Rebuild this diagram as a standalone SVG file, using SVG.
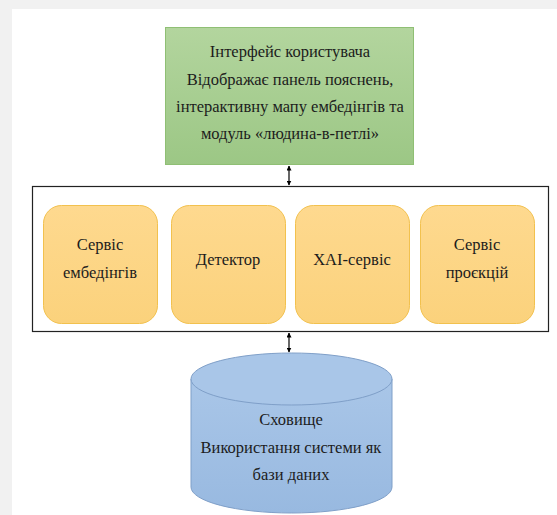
<svg xmlns="http://www.w3.org/2000/svg" width="557" height="515" viewBox="0 0 557 515">
<defs>
<style>
text{font-family:'Liberation Serif','Times New Roman',serif;font-size:16.5px;fill:#1c1c1c;text-anchor:middle}
.svc{fill:url(#og);stroke:#f2c14e;stroke-width:1}
.conn{stroke:#000;stroke-width:1.2;fill:none;marker-start:url(#ah);marker-end:url(#ah)}
</style>
<linearGradient id="gg" x1="0" y1="0" x2="0" y2="1"><stop offset="0" stop-color="#b3d59e"/><stop offset="1" stop-color="#9cc785"/></linearGradient>
<linearGradient id="og" x1="0" y1="0" x2="0" y2="1"><stop offset="0" stop-color="#fed98f"/><stop offset="1" stop-color="#fbd27c"/></linearGradient>
<linearGradient id="bg" x1="0" y1="0" x2="0" y2="1"><stop offset="0" stop-color="#a9c6e8"/><stop offset="1" stop-color="#98b9e0"/></linearGradient>
<marker id="ah" viewBox="0 0 10 10" refX="9" refY="5" markerWidth="5" markerHeight="5" orient="auto-start-reverse" markerUnits="userSpaceOnUse"><path d="M0,0 L10,5 L0,10 z" fill="#000"/></marker>
</defs>
<rect x="0" y="0" width="557" height="515" fill="#f1f1f1"/>
<rect x="12" y="9" width="545" height="506" fill="#ffffff"/>
<g id="ui">
<rect x="165.5" y="27.5" width="248" height="137" fill="url(#gg)" stroke="#8fbf74"/>
<text x="290" y="57">Інтерфейс користувача</text>
<text x="290" y="85">Відображає панель пояснень,</text>
<text x="290" y="112">інтерактивну мапу ембедінгів та</text>
<text x="290" y="139">модуль «людина-в-петлі»</text>
</g>
<g id="services">
<rect x="32.5" y="186.5" width="516" height="145" fill="#fff" stroke="#222" stroke-width="1.2"/>
</g>
<g id="emb">
<rect class="svc" x="43.5" y="205.5" width="114" height="118" rx="18"/>
<text x="100" y="250">Сервіс</text>
<text x="100" y="278">ембедінгів</text>
</g>
<g id="det">
<rect class="svc" x="171.5" y="205.5" width="114" height="118" rx="18"/>
<text x="228" y="265">Детектор</text>
</g>
<g id="xai">
<rect class="svc" x="295.5" y="205.5" width="114" height="118" rx="18"/>
<text x="352" y="265">XAI-сервіс</text>
</g>
<g id="proj">
<rect class="svc" x="420.5" y="205.5" width="114" height="118" rx="18"/>
<text x="477" y="250">Сервіс</text>
<text x="477" y="278">проєкцій</text>
</g>
<g id="storage">
<path d="M191,379 L191,487 A100.5,26 0 0 0 392,487 L392,379" fill="url(#bg)" stroke="#7f9fc8"/>
<ellipse cx="291.5" cy="379" rx="100.5" ry="26" fill="#a9c6e8" stroke="#7f9fc8"/>
<text x="291" y="425">Сховище</text>
<text x="291" y="453">Використання системи як</text>
<text x="291" y="480">бази даних</text>
</g>
<g id="connectors">
<line class="conn" x1="289" y1="166" x2="289" y2="185"/>
<line class="conn" x1="289" y1="333" x2="289" y2="352"/>
</g>
</svg>
